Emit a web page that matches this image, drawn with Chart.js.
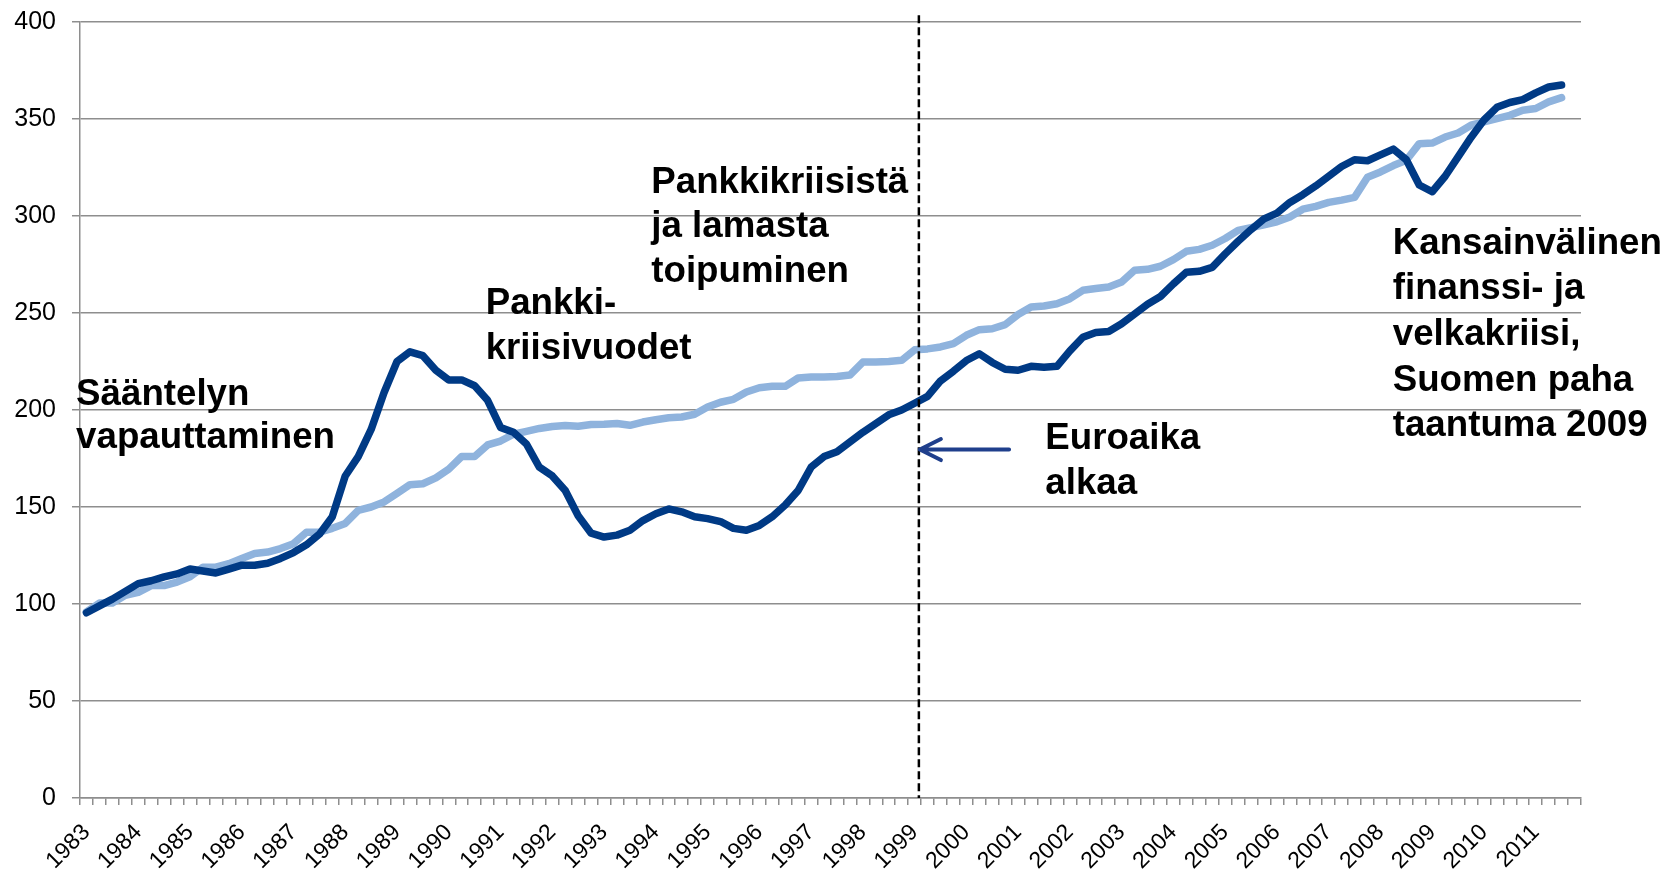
<!DOCTYPE html>
<html>
<head>
<meta charset="utf-8">
<script src="https://cdn.jsdelivr.net/npm/chart.js@4.4.1/dist/chart.umd.min.js"></script>
<style>
    html, body { margin: 0; padding: 0; background: #fff; }
    #wrap { width: 1670px; height: 870px; }
</style>
</head>
<body>
<div id="wrap"><canvas id="chart" width="1670" height="870"></canvas></div>
<script>
// Years on the axis, one label per year (first quarter)
const years = ['1983', '1984', '1985', '1986', '1987', '1988', '1989', '1990', '1991', '1992',
    '1993', '1994', '1995', '1996', '1997', '1998', '1999', '2000', '2001', '2002',
    '2003', '2004', '2005', '2006', '2007', '2008', '2009', '2010', '2011'];
const quarters = ['Q1', 'Q2', 'Q3', 'Q4'];

// Dark series, quarterly, 1983Q1 - 2011Q4 (last quarter missing)
const darkSeries = [
    95.5, 99, 102.5, 106.5, 110.5, 112, 114, 115.5, 118, 117,
    116, 118, 120, 120, 121, 123.5, 126.5, 130.5, 136, 145,
    166, 176, 190, 209, 225, 230, 228, 220.5, 215.5, 215.5,
    212.5, 205, 191, 188.5, 182.5, 170.5, 166, 158.5, 145.5, 136.5,
    134.5, 135.5, 138, 143, 146.5, 149, 147.5, 145, 144, 142.5,
    139, 138, 140.5, 145, 151, 158.5, 170.5, 176, 178.5, 183.5,
    188.5, 193, 197.5, 200, 203.5, 207, 215, 220, 225.5, 229,
    224.5, 221, 220.5, 222.5, 222, 222.5, 230.5, 237.5, 240, 240.5,
    244.5, 249.5, 254.5, 258.5, 265, 271, 271.5, 273.5, 280.5, 287,
    293, 298.5, 301.5, 307, 311, 315.5, 320.5, 325.5, 329, 328.5,
    331.5, 334.5, 329, 316, 312.5, 320.5, 330.5, 340.5, 349.5, 356,
    358.5, 360, 363.5, 366.5, 367.5, null
];

// Light series, same quarters
const lightSeries = [
    96, 100.5, 100.5, 104.5, 106, 109.5, 109.5, 111.3, 114, 119,
    119, 120.8, 123.4, 126, 126.8, 128.6, 131.1, 137, 137, 139,
    141.5, 148.3, 150, 152.6, 157, 161.5, 162, 165, 169.5, 176,
    176, 182, 184, 187.5, 189, 190.5, 191.5, 192, 191.6, 192.5,
    192.6, 193, 192.1, 193.8, 195, 196, 196.4, 197.8, 201.5, 204,
    205.5, 209.3, 211.5, 212.2, 212.2, 216.5, 217, 217, 217.3, 218,
    224.7, 224.7, 225, 225.6, 231, 231.5, 232.5, 234.2, 238.5, 241.4,
    241.9, 244, 249.2, 253.1, 253.6, 254.8, 257.4, 261.7, 262.6, 263.4,
    266, 272, 272.5, 274.1, 277.5, 281.8, 282.8, 284.9, 288.4, 292.6,
    294, 295.5, 297, 299.5, 303.5, 305, 307, 308.2, 309.6, 320,
    322.7, 326, 328.7, 337.3, 337.6, 340.7, 342.8, 346.8, 348.5, 350.2,
    351.9, 354.5, 355.4, 358.8, 361, null
];

// Text boxes: anchor = [category index, value] of the first baseline
const notes = [
    { lines: ['Sääntelyn', 'vapauttaminen'], at: [-0.8, 202.5], step: 43 },
    { lines: ['Pankki-', 'kriisivuodet'], at: [30.85, 249.7], step: 45 },
    { lines: ['Pankkikriisistä', 'ja lamasta', 'toipuminen'], at: [43.65, 311.9], step: 44.5 },
    { lines: ['Euroaika', 'alkaa'], at: [74.1, 180.1], step: 45 },
    { lines: ['Kansainvälinen', 'finanssi- ja', 'velkakriisi,', 'Suomen paha', 'taantuma 2009'], at: [100.95, 280.6], step: 45.7 }
];
const euroStart = 64.33;   // 1999, start of the euro
const arrowFrom = 71.3;
const arrowValue = 179.6;

const labels = [];
years.forEach(function (y) {
    quarters.forEach(function (q) { labels.push(y + ' ' + q); });
});

const fontFamily = "'Liberation Sans', Arial, sans-serif";
const gridGray = '#8e8e8e';

const c = {
    dark: '#003a85',
    light: '#8fb3dd',
    arrow: '#1f3f8c'
};

const notesPlugin = {
    id: 'notes',
    afterDraw: function (chart) {
        const ctx = chart.ctx;
        const x = chart.scales.x;
        const y = chart.scales.y;
        ctx.save();

        // dashed line at the euro start
        const ex = x.getPixelForValue(euroStart);
        ctx.strokeStyle = '#000';
        ctx.lineWidth = 2.5;
        ctx.setLineDash([8, 4]);
        ctx.beginPath();
        ctx.moveTo(ex, y.getPixelForValue(403.5));
        ctx.lineTo(ex, y.getPixelForValue(0));
        ctx.stroke();
        ctx.setLineDash([]);

        // arrow pointing at it
        const ay = y.getPixelForValue(arrowValue);
        const ax0 = x.getPixelForValue(arrowFrom);
        const ax1 = x.getPixelForValue(euroStart) + 1;
        ctx.strokeStyle = c.arrow;
        ctx.lineWidth = 4;
        ctx.lineCap = 'round';
        ctx.lineJoin = 'round';
        ctx.beginPath();
        ctx.moveTo(ax0, ay);
        ctx.lineTo(ax1, ay);
        ctx.moveTo(ax1 + 21, ay - 10.5);
        ctx.lineTo(ax1, ay);
        ctx.lineTo(ax1 + 21, ay + 10.5);
        ctx.stroke();

        // text boxes
        ctx.fillStyle = '#000';
        ctx.font = 'bold 36.7px ' + fontFamily;
        ctx.textAlign = 'left';
        ctx.textBaseline = 'alphabetic';
        notes.forEach(function (n) {
            const px = x.getPixelForValue(n.at[0]);
            const py = y.getPixelForValue(n.at[1]);
            n.lines.forEach(function (line, k) {
                ctx.fillText(line, px, py + k * n.step);
            });
        });
        ctx.restore();
    }
};

new Chart(document.getElementById('chart'), {
    type: 'line',
    data: {
        labels: labels,
        datasets: [{
            label: 'dark',
            data: darkSeries,
            borderColor: c.dark,
            borderWidth: 7.5,
            pointRadius: 0,
            tension: 0,
            fill: false,
            borderJoinStyle: 'round',
            borderCapStyle: 'round'
        }, {
            label: 'light',
            data: lightSeries,
            borderColor: c.light,
            borderWidth: 7.5,
            pointRadius: 0,
            tension: 0,
            fill: false,
            borderJoinStyle: 'round',
            borderCapStyle: 'round'
        }]
    },
    options: {
        responsive: false,
        animation: false,
        devicePixelRatio: 1,
        layout: { padding: { top: 22, right: 89, left: 0, bottom: 0 } },
        plugins: {
            legend: { display: false },
            tooltip: { enabled: false }
        },
        scales: {
            x: {
                offset: true,
                grid: {
                    display: true,
                    drawOnChartArea: false,
                    drawTicks: true,
                    tickLength: 7,
                    offset: true,
                    color: gridGray,
                    lineWidth: 1.5
                },
                border: { color: gridGray, width: 1.5 },
                ticks: {
                    autoSkip: false,
                    minRotation: 45,
                    maxRotation: 45,
                    padding: 14,
                    labelOffset: 0,
                    color: '#000',
                    font: { size: 23, family: fontFamily },
                    callback: function (v, i) {
                        return i % 4 === 0 ? years[i / 4] : '';
                    }
                },
                afterFit: function (s) {
                    s.height = 72;
                    s.paddingLeft = 0;
                    s.paddingRight = 0;
                }
            },
            y: {
                min: 0,
                max: 400,
                grid: {
                    color: gridGray,
                    lineWidth: 1.5,
                    tickLength: 8
                },
                border: { color: gridGray, width: 1.5 },
                ticks: {
                    stepSize: 50,
                    padding: 16,
                    color: '#000',
                    font: { size: 25, family: fontFamily }
                },
                afterFit: function (s) {
                    s.width = 80;
                    s.paddingTop = 0;
                    s.paddingBottom = 0;
                }
            }
        }
    },
    plugins: [notesPlugin]
});
</script>
</body>
</html>
